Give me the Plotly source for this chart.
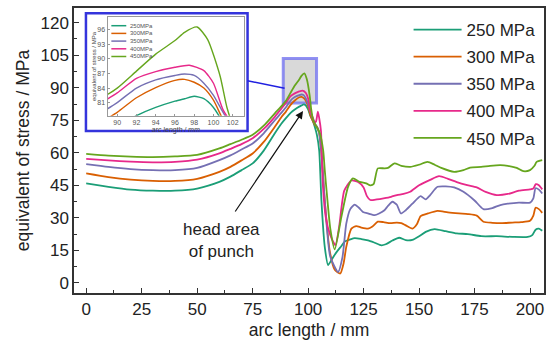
import plotly.graph_objects as go

# ---------------- data ----------------
series_names = ["250 MPa", "300 MPa", "350 MPa", "400 MPa", "450 MPa"]
inset_names = ["250MPa", "300MPa", "350MPa", "400MPa", "450MPa"]
colors = ["#1b9e77", "#d95f02", "#7570b3", "#e7298a", "#66a61e"]

x_250 = [0, 10, 20, 30, 40, 50, 60, 65, 70, 75, 80, 85, 88, 90, 92, 94, 96, 97, 98, 99, 100, 101, 102, 103,
         104, 105, 106, 107.5, 109, 110.5, 112, 113.5, 115, 116.5, 119, 121, 124, 127, 130, 133, 135, 138, 141,
         144, 147, 150, 153, 157, 162, 167, 172, 178, 185, 192, 199, 201, 202.5, 204, 205.5]
y_250 = [45.9, 44.3, 43, 42.5, 42.5, 43.5, 46.6, 49, 52, 55.1, 61, 69, 73.5, 76, 78.3, 80, 81.3, 81.8, 82.3, 81.8,
         80, 77, 75, 72, 68, 61, 38, 16.6, 8.2, 10.5, 13, 15.1, 17, 19, 20, 20.6, 20.2, 19.6, 18.5, 17.3, 17.8,
         19.5, 20.8, 19.7, 19.8, 21.5, 23.5, 24.8, 23.8, 22.8, 22.5, 21.5, 21.5, 21.2, 21.2, 22, 24.5, 25, 24]

x_300 = [0, 10, 20, 30, 40, 50, 60, 65, 70, 75, 80, 85, 88, 90, 92, 94, 96, 97, 98, 99, 100, 101, 102, 103, 104,
         105, 106, 107.5, 109.7, 112, 114.5, 116, 117.2, 119.5, 121.7, 124, 127, 129, 131.4, 134, 137, 140, 142,
         144, 147, 149, 150.7, 154, 158.3, 163, 168, 172, 176, 179, 183, 187, 192, 196, 200, 201.5, 202.5, 204,
         205.5]
y_300 = [50.5, 48.8, 47.6, 47, 47, 48, 51.2, 53.5, 56.5, 59.7, 65, 72, 76.5, 79, 82, 84.1, 85.6, 85.8, 85.2, 84,
         81.5, 77.5, 75, 73, 72, 69, 60, 38, 15, 6, 4.3, 9, 16.6, 25, 26.2, 25.5, 25, 26, 28.2, 28, 27.5, 27.8,
         27.5, 26.5, 25, 27, 30.8, 32, 33.2, 32.5, 32, 31.7, 31, 28.2, 27.7, 27.5, 27.8, 28, 28.6, 31, 34.6, 34,
         32.3]

x_350 = [0, 10, 20, 30, 40, 50, 60, 65, 70, 75, 80, 85, 88, 90, 92, 94, 96, 97, 98, 99, 100, 101, 102, 103, 104,
         105, 106, 107.5, 110, 113.5, 115.5, 117.2, 119, 121, 123, 124.7, 127, 130, 132, 134.4, 136, 138, 140,
         141.8, 144, 147, 150.7, 153, 155, 158.3, 162, 165.8, 170, 175, 179, 183, 186.6, 190, 195, 200, 201.5,
         202.5, 204, 205.5]
y_350 = [54.8, 53.5, 52.5, 52, 52, 53, 56.6, 58.8, 61.5, 64.3, 69, 75, 78.5, 81, 84, 85.7, 86.6, 86.9, 86.6, 85,
         82.5, 79, 76, 73.5, 72, 69, 60, 38, 12, 5, 12, 27.3, 34, 36.1, 34.5, 32.7, 32, 31.2, 32, 33.5, 35.5,
         37.4, 36, 32, 33.5, 36.5, 40, 38.5, 40.5, 44.3, 44.5, 44, 42, 38, 34, 34.5, 35.9, 36.5, 37, 37, 39, 43.6,
         43, 41.2]

x_400 = [0, 10, 20, 30, 40, 50, 60, 65, 70, 75, 80, 85, 88, 90, 92, 94, 96, 97.5, 99, 100, 101, 102, 103, 103.6,
         104.4, 105, 105.8, 106.6, 108, 110, 112.3, 114, 116.3, 119.5, 122.5, 125, 126.5, 128, 131, 134, 137.4,
         140, 143, 146, 150, 155, 159, 163, 167, 171.7, 176, 180, 185, 190, 195, 200, 201.5, 202.6, 204, 205.5]
y_400 = [57.2, 56.5, 55.9, 55.6, 55.8, 56.8, 59.7, 61.8, 64, 66.7, 71, 76.6, 80.5, 83, 86, 87.4, 88.3, 88.7, 87.6,
         85, 79.5, 76.5, 74, 74.5, 79, 76, 70, 46, 30, 22, 17.4, 26, 42.5, 47.2, 46.5, 44, 40, 38.2, 38.5, 39,
         39.7, 40.5, 41, 42, 45, 47.5, 49.2, 48, 46.5, 45.1, 44, 42, 40.5, 41, 42.5, 43.1, 43.5, 45.5, 45, 43.1]

x_450 = [0, 10, 20, 30, 40, 50, 60, 65, 70, 75, 80, 85, 88, 90, 92, 94, 96, 97, 98.3, 99.4, 100.7, 101.4, 102.3,
         103.8, 105.3, 106.8, 107.5, 108.7, 110, 112, 115, 118, 120.2, 123.2, 126.2, 128, 129.5, 131.4, 134.4,
         136, 138.9, 142, 146, 150, 153.8, 157, 160, 165.8, 170, 173, 178, 182, 186.6, 190, 194, 197, 200, 202,
         203, 205.5]
y_450 = [59.5, 58.7, 58.2, 58, 58.3, 59, 62, 64, 66, 68.3, 72.5, 78.2, 81.5, 84, 87.5, 91, 93.8, 95.5, 96.6, 94,
         86.4, 80, 75, 72, 69, 61, 52, 38.2, 25, 15.4, 30.5, 44.3, 48.2, 46.6, 45.9, 45, 45.5, 52.8, 52.8, 53,
         55.1, 54, 53.5, 54.5, 55.8, 54.5, 53, 51.2, 52, 53.2, 53.5, 54, 54.3, 54, 53, 51.5, 52, 54, 55.8, 56.6]

xs = [x_250, x_300, x_350, x_400, x_450]
ys = [y_250, y_300, y_350, y_400, y_450]

x_ticks = [0, 25, 50, 75, 100, 125, 150, 175, 200]
y_ticks = [0, 15, 30, 45, 60, 75, 90, 105, 120]
inset_x_ticks = [90, 92, 94, 96, 98, 100, 102]
inset_y_ticks = [81, 84, 87, 90, 93, 96]

FONT = "Liberation Sans, Arial, sans-serif"

fig = go.Figure()
for i in range(5):
    fig.add_trace(go.Scatter(x=xs[i], y=ys[i], mode="lines", name=series_names[i],
                             line=dict(color=colors[i], width=1.8, shape="spline", smoothing=0.6),
                             legendgroup=f"g{i}"))
for i in range(5):
    fig.add_trace(go.Scatter(x=xs[i], y=ys[i], mode="lines", name=inset_names[i], showlegend=False,
                             line=dict(color=colors[i], width=1.4, shape="spline", smoothing=0.6),
                             xaxis="x2", yaxis="y2"))

# geometry helpers (pixel -> paper)
L, R, T, B, W, H = 74, 3, 8, 49, 549, 342
PW, PH = W - L - R, H - T - B
def px(xp):
    return (xp - L) / PW
def py(yp):
    return (H - B - yp) / PH

shapes = [
    # inset frame
    dict(type="rect", xref="paper", yref="paper", x0=px(86), x1=px(248.3), y0=py(131), y1=py(13.3),
         line=dict(color="#3434dc", width=2.5), fillcolor="white", layer="below"),
    # zoom box
    dict(type="rect", xref="x", yref="y", x0=88.8, x1=103.8, y0=83, y1=103.5,
         line=dict(color="rgba(110,110,240,0.75)", width=3), fillcolor="#d9d9d9", layer="below"),
    # connector
    dict(type="line", xref="paper", yref="paper", x0=px(248.3), y0=py(80.7), x1=px(285.5), y1=py(88.3),
         line=dict(color="#2020e0", width=1.5)),
]
# inset legend keys
leg_y = [25.7, 33.4, 41.1, 48.8, 56.5]
annotations = []
for i in range(5):
    shapes.append(dict(type="line", xref="paper", yref="paper", x0=px(111.5), x1=px(126.5),
                       y0=py(leg_y[i]), y1=py(leg_y[i]), line=dict(color=colors[i], width=1.5)))
    annotations.append(dict(xref="paper", yref="paper", x=px(128), y=py(leg_y[i]), text=inset_names[i],
                            showarrow=False, xanchor="left", yanchor="middle",
                            font=dict(family=FONT, size=6, color="#555")))

annotations += [
    dict(x=97.7, y=79.3, ax=66.7, ay=32.2, xref="x", yref="y", axref="x", ayref="y", text="",
         showarrow=True, arrowhead=2, arrowsize=1.3, arrowwidth=1.2, arrowcolor="#111"),
    dict(x=60.9, y=19.7, xref="x", yref="y", text="head area<br>of punch", showarrow=False,
         font=dict(family=FONT, size=17, color="#222"), align="center"),
]

axis_common = dict(showline=True, linecolor="#333", linewidth=1.5, mirror=True, ticks="inside",
                   tickcolor="#333", ticklen=5, tickwidth=1.3, showgrid=False, zeroline=False,
                   tickfont=dict(family=FONT, size=17, color="#222"))

fig.update_layout(
    width=W, height=H, margin=dict(l=L, r=R, t=T, b=B),
    paper_bgcolor="white", plot_bgcolor="white",
    font=dict(family=FONT, color="#222"),
    xaxis=dict(range=[-5.5, 206.3], tickvals=x_ticks,
               minor=dict(ticks="inside", ticklen=3, tickcolor="#333", dtick=12.5, tick0=0),
               title=dict(text="arc length / mm", font=dict(family=FONT, size=17.5, color="#222"), standoff=6),
               **axis_common),
    yaxis=dict(range=[-4.7, 126.8], tickvals=y_ticks,
               minor=dict(ticks="inside", ticklen=3, tickcolor="#333", dtick=7.5, tick0=0),
               title=dict(text="equivalent of stress / MPa", font=dict(family=FONT, size=17.5, color="#222"),
                          standoff=6),
               **axis_common),
    xaxis2=dict(domain=[px(107.7), px(245)], anchor="y2", range=[89, 103.2], tickvals=inset_x_ticks,
                showline=True, linecolor="#999", linewidth=1, mirror=True, ticks="inside", ticklen=2,
                tickcolor="#999", showgrid=False, zeroline=False,
                tickfont=dict(family=FONT, size=7, color="#555"),
                title=dict(text="arc length / mm", font=dict(family=FONT, size=7, color="#444"), standoff=0)),
    yaxis2=dict(domain=[py(115.7), py(17.3)], anchor="x2", range=[78.3, 98.6], tickvals=inset_y_ticks,
                showline=True, linecolor="#999", linewidth=1, mirror=True, ticks="inside", ticklen=2,
                tickcolor="#999", showgrid=False, zeroline=False,
                tickfont=dict(family=FONT, size=7, color="#555"),
                title=dict(text="equivalent of stress / MPa", font=dict(family=FONT, size=6, color="#444"),
                           standoff=0)),
    legend=dict(x=px(410), y=py(12), xanchor="left", yanchor="top", bgcolor="rgba(0,0,0,0)",
                font=dict(family=FONT, size=17, color="#222"), itemwidth=48, tracegroupgap=2),
    shapes=shapes,
    annotations=annotations,
)

fig.write_html("out.html")
